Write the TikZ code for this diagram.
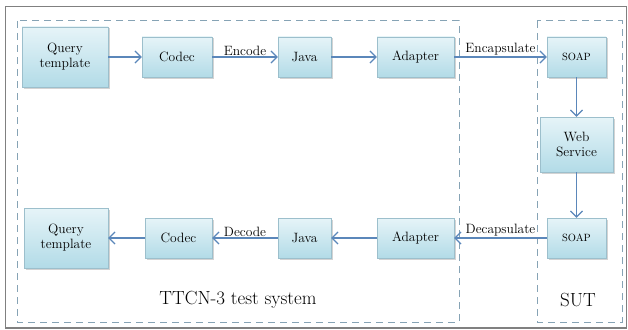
\documentclass[tikz,border=0pt]{standalone}
\usetikzlibrary{arrows.meta}
\usetikzlibrary{shadows}
\definecolor{boxtop}{HTML}{E6F4F8}
\definecolor{boxbot}{HTML}{B2DBE7}
\definecolor{boxline}{HTML}{9CBFCC}
\definecolor{flow}{HTML}{5B87BA}
\definecolor{frameline}{HTML}{86A3B5}

\begin{document}
\begin{tikzpicture}[x=1pt, y=-1pt, >={Straight Barb[length=6pt,width=12pt]},
	every node/.style={inner sep=0pt, font=\fontsize{13.5}{15}\selectfont},
	blk/.style={draw=boxline, top color=boxtop, bottom color=boxbot, align=center,
		drop shadow={shadow xshift=1.5pt, shadow yshift=-1.5pt, opacity=0.35}},
	flowline/.style={->, draw=flow, line width=1.2pt},
	region/.style={draw=frameline, dash pattern=on 7pt off 5pt, line width=1pt}]
	\useasboundingbox (0,0) rectangle (628,329);
	\draw[gray, line width=1.5pt] (5.5,6.5) rectangle (626.5,328);
	%Regions
	\draw[region] (17,21) rectangle (459,322);
	\draw[region] (537,21) rectangle (622,322);
	\node (sysname) at (238,300) {\fontsize{19}{21}\selectfont TTCN-3 test system};
	\node (sutname) at (578,300) {\fontsize{19}{21}\selectfont SUT};
	%Top row
	\node [blk, minimum width=86pt, minimum height=60pt] (qt1) at (65,57) {Query\\template};
	\node [blk, minimum width=70pt, minimum height=40pt] (codec1) at (177,57) {Codec};
	\node [blk, minimum width=53pt, minimum height=40pt] (java1) at (304.5,57) {Java};
	\node [blk, minimum width=77pt, minimum height=40pt] (adapt1) at (415.5,57) {Adapter};
	\node [blk, minimum width=59pt, minimum height=40pt, font=\fontsize{10.5}{12}\selectfont] (soap1) at (576.5,57) {SOAP};
	\draw[flowline] (qt1) -- (codec1);
	\draw[flowline] (codec1) -- node [above=1pt] {Encode} (java1);
	\draw[flowline] (java1) -- (adapt1);
	\draw[flowline] (adapt1) -- node [above=1pt] {Encapsulate} (soap1);
	%SUT
	\node [blk, minimum width=73pt, minimum height=55pt] (web) at (576.5,144.5) {Web\\Service};
	\node [blk, minimum width=59pt, minimum height=40pt, font=\fontsize{10.5}{12}\selectfont] (soap2) at (576.5,238) {SOAP};
	\draw[flowline] (soap1) -- (web);
	\draw[flowline] (web) -- (soap2);
	%Bottom row
	\node [blk, minimum width=77pt, minimum height=40pt] (adapt2) at (415.5,238) {Adapter};
	\node [blk, minimum width=53pt, minimum height=40pt] (java2) at (304.5,238) {Java};
	\node [blk, minimum width=67pt, minimum height=40pt] (codec2) at (178.5,238) {Codec};
	\node [blk, minimum width=84pt, minimum height=60pt] (qt2) at (66,238) {Query\\template};
	\draw[flowline] (soap2) -- node [above=1pt] {Decapsulate} (adapt2);
	\draw[flowline] (adapt2) -- (java2);
	\draw[flowline] (java2) -- node [above=1pt] {Decode} (codec2);
	\draw[flowline] (codec2) -- (qt2);
\end{tikzpicture}
\end{document}
